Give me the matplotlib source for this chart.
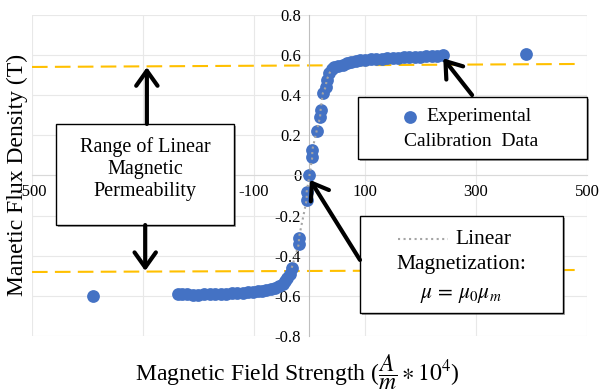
import numpy as np
import matplotlib
matplotlib.use('Agg')
import matplotlib.pyplot as plt
from matplotlib.patches import Rectangle
import matplotlib.patheffects as pe

plt.rcParams['font.family'] = ['Liberation Serif', 'DejaVu Serif']
plt.rcParams['mathtext.fontset'] = 'stix'
plt.rcParams['axes.unicode_minus'] = False

#%%
# calibration data (H in A/m*1e4, B in T)
H_pos = [0, 5, 5, 13, 19, 20, 24, 29, 31, 36, 40, 45, 52, 60, 68, 75, 83, 91, 100,
         110, 120, 130, 140, 150, 160, 170, 180, 190, 200, 210, 220, 229, 241, 390]
B_pos = [0, 0.09, 0.127, 0.223, 0.29, 0.326, 0.41, 0.44, 0.476, 0.51, 0.53, 0.54,
         0.547, 0.553, 0.559, 0.565, 0.570, 0.574, 0.577, 0.579, 0.581, 0.583, 0.585,
         0.586, 0.588, 0.589, 0.590, 0.592, 0.593, 0.595, 0.596, 0.598, 0.600, 0.607]
H_neg = [-5, -5, -19, -19, -32, -36, -40, -44, -48, -55, -62, -70, -78, -86, -93,
         -102, -111, -120, -130, -140, -150, -160, -170, -180, -190, -201, -210,
         -220, -229, -237, -390]
B_neg = [-0.08, -0.12, -0.31, -0.34, -0.46, -0.49, -0.51, -0.527, -0.541, -0.553,
         -0.562, -0.567, -0.572, -0.575, -0.577, -0.580, -0.582, -0.584, -0.586,
         -0.588, -0.589, -0.590, -0.591, -0.592, -0.593, -0.594, -0.594, -0.593,
         -0.593, -0.592, -0.600]

# linear magnetization region
H_lin = [-32, -19, -19, -5, -5, 0, 5, 5, 13, 19, 20, 24, 29, 31, 36, 40]
B_lin = [-0.46, -0.34, -0.31, -0.12, -0.08, 0, 0.09, 0.127, 0.223, 0.29, 0.326,
         0.41, 0.44, 0.476, 0.51, 0.53]

# limits of linear permeability
lim_x = [-500, 487]
upper_y = [0.541, 0.556]
lower_y = [-0.481, -0.471]

xticks = [-500, -300, -100, 100, 300, 500]
yticks = [-0.8, -0.6, -0.4, -0.2, 0, 0.2, 0.4, 0.6, 0.8]
ytick_labels = ['-0.8', '-0.6', '-0.4', '-0.2', '0', '0.2', '0.4', '0.6', '0.8']

BLUE = '#4472C4'
GOLD = '#FFC000'
GREY = '#A5A5A5'

#%%
fig = plt.figure(figsize=(6, 3.92), dpi=100)
ax = fig.add_axes([0.0533, 0.1429, 0.925, 0.8188])
ax.set_xlim(-500, 500)
ax.set_ylim(-0.8, 0.8)

for s in ['top', 'right']:
    ax.spines[s].set_visible(False)
ax.spines['left'].set_position(('data', 0))
ax.spines['bottom'].set_position(('data', 0))
ax.spines['left'].set_color('#BFBFBF')
ax.spines['bottom'].set_color('#D9D9D9')
ax.spines['left'].set_linewidth(0.8)
ax.spines['bottom'].set_linewidth(0.8)

ax.set_xticks(xticks)
ax.set_yticks(yticks)
ax.set_yticklabels(ytick_labels)
ax.tick_params(length=0, labelsize=12, pad=6)
ax.grid(True, color='#E8E8E8', lw=0.8)
ax.set_axisbelow(True)

ax.plot(lim_x, upper_y, color=GOLD, lw=1.5, dashes=(7.5, 3.5), zorder=2)
ax.plot(lim_x, lower_y, color=GOLD, lw=1.5, dashes=(7.5, 3.5), zorder=2)

ax.plot(H_pos, B_pos, 'o', color=BLUE, ms=9.2, mew=0, zorder=3)
ax.plot(H_neg, B_neg, 'o', color=BLUE, ms=9.2, mew=0, zorder=3)
ax.plot(H_lin, B_lin, ':', color=GREY, lw=1.5, zorder=4)

# text boxes
def box(x0, y0, x1, y1):
    r = Rectangle((x0, y0), x1 - x0, y1 - y0, facecolor='white', edgecolor='black',
                  lw=1.0, zorder=5, clip_on=False,
                  path_effects=[pe.SimplePatchShadow(offset=(1.2, -1.2), alpha=0.5), pe.Normal()])
    ax.add_patch(r)

box(-456.8, -0.247, -136, 0.257)
ax.text(-296, 0.032, 'Range of Linear\nMagnetic\nPermeability', ha='center', va='center',
        fontsize=14.5, linespacing=1.2, zorder=6)

box(87.4, 0.082, 500, 0.391)
ax.plot([181], [0.292], 'o', color=BLUE, ms=9.2, mew=0, zorder=6, clip_on=False)
ax.text(304.5, 0.292, 'Experimental', ha='center', va='center', fontsize=14, zorder=6)
ax.text(292, 0.17, 'Calibration  Data', ha='center', va='center', fontsize=14, zorder=6)

box(91, -0.685, 456.8, -0.202)
ax.plot([159.5, 249.5], [-0.317, -0.317], ':', color=GREY, lw=1.5, zorder=6)
ax.text(312.6, -0.317, 'Linear', ha='center', va='center', fontsize=15.5, zorder=6)
ax.text(273, -0.446, 'Magnetization:', ha='center', va='center', fontsize=15.5, zorder=6)
ax.text(273, -0.60, r'$\mu\,=\,\mu_0\mu_m$', ha='center', va='center', fontsize=15.5, zorder=6)

# arrows
arrow = dict(arrowstyle='->,head_length=0.45,head_width=0.32', lw=3, color='black',
             mutation_scale=24, shrinkA=0, shrinkB=0)
ax.annotate('', xy=(-293, 0.54), xytext=(-293, 0.257), arrowprops=arrow,
            annotation_clip=False, zorder=7)
ax.annotate('', xy=(-296, -0.476), xytext=(-296, -0.247), arrowprops=arrow,
            annotation_clip=False, zorder=7)
ax.annotate('', xy=(241, 0.584), xytext=(293, 0.401), arrowprops=arrow,
            annotation_clip=False, zorder=7)
ax.annotate('', xy=(1, -0.022), xytext=(91, -0.421), arrowprops=arrow,
            annotation_clip=False, zorder=7)

fig.text(17.5 / 600, 0.553, 'Manetic Flux Density (T)', rotation=90, ha='center',
         va='center', fontsize=17)
fig.text(0.495, 0.051, r'Magnetic Field Strength ($\dfrac{A}{m}\ast10^4$)', ha='center',
         va='center', fontsize=17)

fig.savefig('out.png', dpi=100)
